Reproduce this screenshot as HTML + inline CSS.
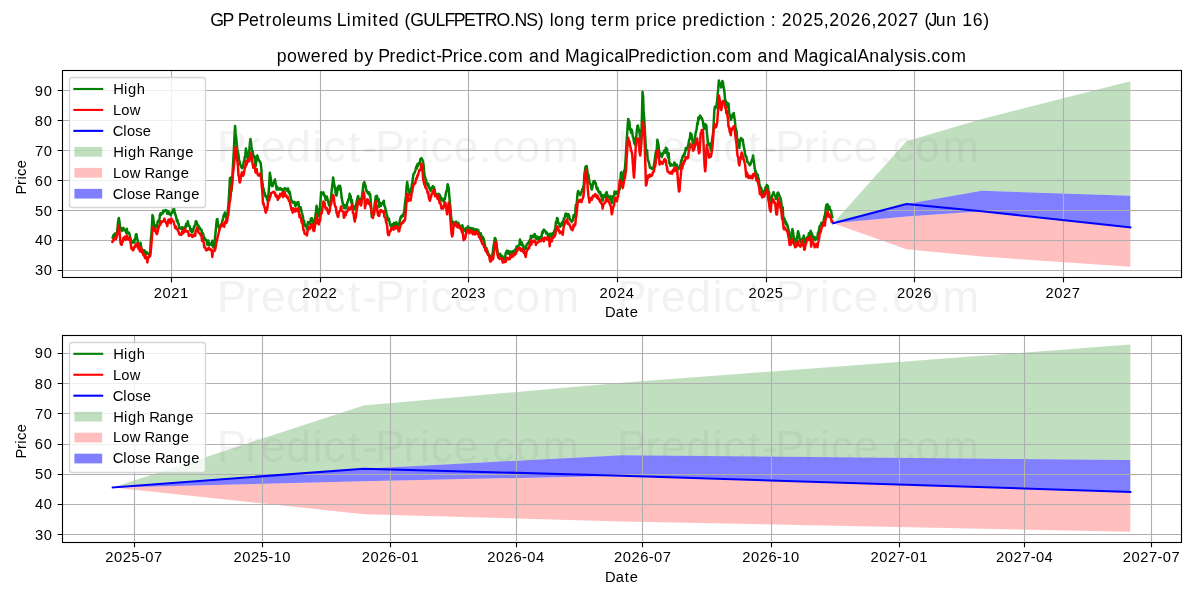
<!DOCTYPE html>
<html><head><meta charset="utf-8"><title>GP Petroleums Limited long term price prediction</title>
<style>html,body{margin:0;padding:0;background:#fff;width:1200px;height:600px;overflow:hidden}svg{display:block;will-change:transform}</style>
</head><body>
<svg width="1200" height="600" viewBox="0 0 1200 600" font-family='"Liberation Sans", sans-serif'>
<rect width="1200" height="600" fill="#ffffff"/>
<defs><clipPath id="c0"><rect x="61.9" y="70.33" width="1119.31" height="206.56"/></clipPath></defs>
<path d="M171.5 277.5v4.861M320.5 277.5v4.861M468.5 277.5v4.861M617.5 277.5v4.861M766.5 277.5v4.861M914.5 277.5v4.861M1063.5 277.5v4.861M62.5 270.5h-4.861M62.5 240.5h-4.861M62.5 210.5h-4.861M62.5 180.5h-4.861M62.5 150.5h-4.861M62.5 120.5h-4.861M62.5 90.5h-4.861" stroke="#000" stroke-width="1.111" fill="none"/>
<g clip-path="url(#c0)">
<polygon points="833.21,223.3 906.47,141.3 981.77,118.92 1130.34,81.28 1130.34,195.74 981.77,190.83 906.47,204.07 833.21,223.3" fill="#008000" fill-opacity="0.25"/>
<polygon points="833.21,223.3 906.47,216.44 981.77,211.2 1130.34,227.37 1130.34,266.81 981.77,256.57 906.47,249.17 833.21,223.3" fill="#ff0000" fill-opacity="0.25"/>
<polygon points="833.21,223.3 906.47,204.07 981.77,190.83 1130.34,195.74 1130.34,227.37 981.77,211.2 906.47,216.44 833.21,223.3" fill="#0000ff" fill-opacity="0.5"/>
</g>
<path d="M171.5 70.33V276.89M320.5 70.33V276.89M468.5 70.33V276.89M617.5 70.33V276.89M766.5 70.33V276.89M914.5 70.33V276.89M1063.5 70.33V276.89M61.9 270.5H1181.21M61.9 240.5H1181.21M61.9 210.5H1181.21M61.9 180.5H1181.21M61.9 150.5H1181.21M61.9 120.5H1181.21M61.9 90.5H1181.21" stroke="#b0b0b0" stroke-width="1.111" fill="none" clip-path="url(#c0)"/>
<g clip-path="url(#c0)">
<polyline points="112,237 112.57,237.62 113.14,236.32 113.71,234.69 114.28,236.81 114.85,233.53 115.42,237.1 115.99,235.94 116.56,235.11 117.13,231.79 117.7,225.58 118.27,220.16 118.84,218.04 119.41,221.13 119.98,226.61 120.55,227.65 121.12,228.22 121.69,231.1 122.26,229.39 122.83,228.97 123.4,227.77 123.97,230.33 124.54,229.74 125.11,230.7 125.68,230.74 126.25,232.98 126.82,228.77 127.39,232.68 127.96,232.74 128.53,232.44 129.09,232.62 129.66,235.05 130.23,237.32 130.8,239.69 131.37,241.3 131.94,241.73 132.51,242.75 133.08,242.51 133.65,240.62 134.22,242.43 134.79,239.35 135.36,237.81 135.93,234.43 136.5,234.23 137.07,238.34 137.64,240.29 138.21,246.18 138.78,244.83 139.35,243.95 139.92,248.76 140.49,242.78 141.06,246.19 141.63,249.65 142.2,251.64 142.77,249.82 143.34,250.2 143.91,251.41 144.48,250.38 145.05,253.03 145.62,253.04 146.19,253.96 146.76,252.11 147.33,252.88 147.9,253.63 148.47,253.77 149.04,253.95 149.61,256.14 150.18,253.08 150.75,240.74 151.32,234.95 151.89,226.83 152.46,215.1 153.03,216.52 153.6,221.03 154.17,224.53 154.74,227.21 155.31,225.38 155.88,226.41 156.45,225.37 157.02,227.06 157.59,221.96 158.16,220.89 158.73,221.16 159.3,220.6 159.87,215.19 160.44,213.32 161.01,214.87 161.58,213.75 162.14,213.84 162.71,213.12 163.28,210.46 163.85,211.88 164.42,211.35 164.99,210.6 165.56,210.11 166.13,210.66 166.7,210.3 167.27,213.77 167.84,212.17 168.41,211.12 168.98,213.91 169.55,213.74 170.12,213.57 170.69,215.36 171.26,213.01 171.83,212.18 172.4,212.62 172.97,211.28 173.54,209.01 174.11,208.88 174.68,211.98 175.25,214.4 175.82,215.57 176.39,218.53 176.96,221.44 177.53,219.9 178.1,223.81 178.67,223.67 179.24,228.53 179.81,227.46 180.38,227.6 180.95,228.56 181.52,229.24 182.09,227.32 182.66,229.5 183.23,230.11 183.8,227.8 184.37,230.23 184.94,226.7 185.51,227.88 186.08,224.01 186.65,226.09 187.22,223.73 187.79,221.24 188.36,224.43 188.93,225.85 189.5,225.7 190.07,228.58 190.64,230.85 191.21,229.17 191.78,232.51 192.35,231.92 192.92,231.17 193.49,229.04 194.06,226.52 194.63,225.54 195.19,225.51 195.76,221.29 196.33,221.49 196.9,222.95 197.47,224.44 198.04,225.14 198.61,226.11 199.18,228.73 199.75,227.58 200.32,229.44 200.89,229.45 201.46,229.74 202.03,233.22 202.6,233.03 203.17,233.86 203.74,236.8 204.31,239.85 204.88,238.23 205.45,239.61 206.02,240.11 206.59,240.51 207.16,244.55 207.73,244.66 208.3,240.49 208.87,244.01 209.44,245.07 210.01,243.35 210.58,244.2 211.15,243.61 211.72,245.01 212.29,240.66 212.86,246.37 213.43,247.42 214,247.77 214.57,242.71 215.14,236.67 215.71,230.77 216.28,224.63 216.85,219.5 217.42,218.97 217.99,224.89 218.56,226.45 219.13,228.27 219.7,226.23 220.27,225.35 220.84,225.37 221.41,223.94 221.98,223.24 222.55,220.07 223.12,218.12 223.69,215.3 224.26,215.17 224.83,212.44 225.4,216.67 225.97,215.29 226.54,219.27 227.11,218.58 227.68,211.88 228.24,206.82 228.81,199.02 229.38,189.24 229.95,178.2 230.52,177.59 231.09,181.42 231.66,190.69 232.23,179.76 232.8,168.74 233.37,158.88 233.94,149.34 234.51,135.51 235.08,125.91 235.65,133.68 236.22,137.76 236.79,144.57 237.36,150.07 237.93,151.6 238.5,155.26 239.07,160.15 239.64,161.49 240.21,164.67 240.78,164.99 241.35,167.21 241.92,168.28 242.49,165.78 243.06,167.16 243.63,161.9 244.2,160.81 244.77,157.08 245.34,155.66 245.91,148.4 246.48,151.24 247.05,155.51 247.62,158.44 248.19,156.32 248.76,154.82 249.33,150.05 249.9,143.55 250.47,139.07 251.04,142.51 251.61,148.82 252.18,151.24 252.75,151.19 253.32,156.63 253.89,157.39 254.46,156.17 255.03,162.82 255.6,166.41 256.17,162.37 256.74,157.38 257.31,155.48 257.88,157.49 258.45,159.14 259.02,160.54 259.59,161.37 260.16,161.96 260.73,163.53 261.29,168.05 261.86,178.83 262.43,182.79 263,187.11 263.57,188.78 264.14,193.7 264.71,192.6 265.28,195.99 265.85,196.91 266.42,196.41 266.99,198.88 267.56,200.82 268.13,196.55 268.7,192.09 269.27,183.82 269.84,172.65 270.41,176.2 270.98,179.39 271.55,185.25 272.12,186.24 272.69,185.87 273.26,182.87 273.83,182.72 274.4,180.72 274.97,179.48 275.54,182.89 276.11,185.82 276.68,189.82 277.25,186.81 277.82,189.07 278.39,189.37 278.96,189.58 279.53,188.61 280.1,188.12 280.67,189.43 281.24,189.28 281.81,188.92 282.38,189.63 282.95,191.71 283.52,190.35 284.09,189.65 284.66,188.25 285.23,188.2 285.8,188.85 286.37,189.66 286.94,190.69 287.51,189.76 288.08,188.42 288.65,192.51 289.22,193.41 289.79,191.81 290.36,196.09 290.93,198.64 291.5,200.73 292.07,201.26 292.64,202.64 293.21,201.95 293.78,202.58 294.34,201.82 294.91,204.71 295.48,206.2 296.05,202.83 296.62,202.84 297.19,204.57 297.76,202.48 298.33,202.02 298.9,206.12 299.47,209.35 300.04,207.41 300.61,207.18 301.18,209.59 301.75,212.3 302.32,214.43 302.89,216.26 303.46,221.46 304.03,220.84 304.6,223.57 305.17,225.88 305.74,225.58 306.31,225.99 306.88,229.03 307.45,224.68 308.02,222.05 308.59,222.59 309.16,222.37 309.73,223.91 310.3,222.03 310.87,218.78 311.44,218.24 312.01,218.32 312.58,220.38 313.15,222.46 313.72,223.94 314.29,224.18 314.86,219.97 315.43,215.6 316,211.22 316.57,205.73 317.14,208.46 317.71,213.51 318.28,213.97 318.85,216.31 319.42,212.36 319.99,207 320.56,200.4 321.13,192.27 321.7,193.73 322.27,193.17 322.84,193.2 323.41,192.37 323.98,195.58 324.55,195.19 325.12,197.08 325.69,200 326.26,198.93 326.83,196.55 327.39,198.72 327.96,201.21 328.53,202.89 329.1,205.48 329.67,205.31 330.24,203.58 330.81,199.1 331.38,194.15 331.95,188.16 332.52,183.57 333.09,177.45 333.66,180.77 334.23,184.81 334.8,187.29 335.37,190.76 335.94,195.34 336.51,195.59 337.08,192.97 337.65,187.23 338.22,189.79 338.79,185.76 339.36,186.15 339.93,185.81 340.5,187.61 341.07,191.82 341.64,197.51 342.21,200.58 342.78,203.67 343.35,205.4 343.92,207.93 344.49,206.87 345.06,204.95 345.63,208.47 346.2,204.98 346.77,206.14 347.34,202.36 347.91,201.2 348.48,199.11 349.05,199.52 349.62,193.83 350.19,195.23 350.76,196.49 351.33,202.65 351.9,199.9 352.47,204.48 353.04,206.95 353.61,206.58 354.18,209.22 354.75,207.89 355.32,208.52 355.89,204.73 356.46,203.12 357.03,200.06 357.6,197.28 358.17,196.07 358.74,199.05 359.31,199.57 359.88,199.46 360.45,203.03 361.01,204.54 361.58,197.91 362.15,195.26 362.72,190.54 363.29,184.83 363.86,182.86 364.43,182.17 365,186.38 365.57,185.26 366.14,190.63 366.71,190.31 367.28,191.94 367.85,193.36 368.42,193.73 368.99,192.23 369.56,195.26 370.13,194.07 370.7,200.61 371.27,208.13 371.84,217.08 372.41,214.97 372.98,213.97 373.55,212.16 374.12,214.61 374.69,203.93 375.26,199.87 375.83,196.29 376.4,199.38 376.97,195.66 377.54,200.47 378.11,201.36 378.68,199.08 379.25,207.03 379.82,205.04 380.39,202.88 380.96,205.82 381.53,203.97 382.1,203.91 382.67,202.75 383.24,202.24 383.81,200.67 384.38,206.19 384.95,206.2 385.52,209.6 386.09,210.93 386.66,214.63 387.23,215.45 387.8,220.26 388.37,218.41 388.94,218.6 389.51,222.22 390.08,224.09 390.65,226.28 391.22,224.6 391.79,225.12 392.36,224.19 392.93,224.95 393.5,227.03 394.06,222.87 394.63,227.66 395.2,225.22 395.77,226.79 396.34,222.27 396.91,224.72 397.48,223.79 398.05,225.01 398.62,224.91 399.19,224.29 399.76,220.94 400.33,218.42 400.9,216.5 401.47,217.35 402.04,215.42 402.61,214.91 403.18,215.91 403.75,213.32 404.32,210.99 404.89,204.32 405.46,199.99 406.03,195.4 406.6,186.55 407.17,181.99 407.74,186.11 408.31,188.7 408.88,189.49 409.45,194.36 410.02,195.26 410.59,192.42 411.16,188.91 411.73,185.84 412.3,182.48 412.87,178.49 413.44,174.43 414.01,173.28 414.58,172.92 415.15,171.16 415.72,169.24 416.29,166.45 416.86,168.4 417.43,164.11 418,166.16 418.57,164.43 419.14,162.79 419.71,163.66 420.28,159.25 420.85,158.65 421.42,158.12 421.99,159.3 422.56,160.04 423.13,161.85 423.7,166.17 424.27,172.72 424.84,176 425.41,178.86 425.98,179.58 426.55,183.77 427.11,184 427.68,186.02 428.25,183.67 428.82,187.12 429.39,188.29 429.96,188.14 430.53,191.04 431.1,189.15 431.67,188.65 432.24,187.37 432.81,186.1 433.38,186.6 433.95,187.07 434.52,189.26 435.09,192.61 435.66,194.43 436.23,194.64 436.8,194.23 437.37,196.23 437.94,194.95 438.51,193.69 439.08,198.6 439.65,194.67 440.22,196.4 440.79,197.19 441.36,200.27 441.93,198.72 442.5,198.63 443.07,200.72 443.64,201.47 444.21,199.72 444.78,199.43 445.35,196.28 445.92,193.04 446.49,191.21 447.06,189.16 447.63,184.15 448.2,186.11 448.77,188.73 449.34,196.66 449.91,203.26 450.48,208.45 451.05,216.08 451.62,220.01 452.19,223.28 452.76,223.92 453.33,221.85 453.9,222.66 454.47,223.4 455.04,223.09 455.61,222.69 456.18,221.52 456.75,223.48 457.32,223.62 457.89,223.49 458.46,222.91 459.03,226.51 459.6,226.92 460.16,226.73 460.73,225.83 461.3,229.15 461.87,229.66 462.44,225.34 463.01,228.73 463.58,228.74 464.15,229.57 464.72,230.83 465.29,229.99 465.86,228.18 466.43,228.09 467,229.49 467.57,227.73 468.14,226.32 468.71,229.28 469.28,231.55 469.85,227.91 470.42,228.92 470.99,228.05 471.56,229.47 472.13,228.44 472.7,230.18 473.27,228.42 473.84,231.58 474.41,229.41 474.98,230.18 475.55,232 476.12,229.2 476.69,231.17 477.26,230.61 477.83,229.83 478.4,230.45 478.97,234.38 479.54,234.34 480.11,235.51 480.68,233.19 481.25,236.13 481.82,236.03 482.39,239.02 482.96,237.29 483.53,238.47 484.1,241.06 484.67,243.45 485.24,246.92 485.81,249.75 486.38,247.83 486.95,251.85 487.52,250.69 488.09,254.12 488.66,253.83 489.23,255.13 489.8,256.62 490.37,258.01 490.94,258.13 491.51,255.69 492.08,256.26 492.65,253.51 493.21,248.14 493.78,244.75 494.35,241.44 494.92,238.07 495.49,238.85 496.06,241.24 496.63,245.1 497.2,249.57 497.77,252.76 498.34,255.28 498.91,255.72 499.48,255.26 500.05,253.73 500.62,255.93 501.19,255.31 501.76,256.99 502.33,256.04 502.9,258.89 503.47,259.61 504.04,257.54 504.61,258 505.18,256.69 505.75,252.84 506.32,252.02 506.89,250.65 507.46,250.97 508.03,253.66 508.6,250.97 509.17,252.9 509.74,253.37 510.31,255.35 510.88,251.59 511.45,251.84 512.02,253.42 512.59,251.45 513.16,251.2 513.73,250.79 514.3,252.48 514.87,250.63 515.44,249.27 516.01,249.24 516.58,246.41 517.15,246.45 517.72,245.96 518.29,247.06 518.86,244.97 519.43,244.54 520,239.59 520.57,244.73 521.14,242.38 521.71,242.32 522.28,244.03 522.85,246.5 523.42,245.41 523.99,250.23 524.56,247.86 525.13,247.86 525.7,248.66 526.26,246.46 526.83,244.42 527.4,243.81 527.97,242.74 528.54,243.02 529.11,242.09 529.68,240.21 530.25,241.54 530.82,235.77 531.39,237.66 531.96,236.35 532.53,235.8 533.1,237.27 533.67,235.27 534.24,234.86 534.81,234.01 535.38,236.83 535.95,238.36 536.52,238.89 537.09,236.58 537.66,238.9 538.23,237.59 538.8,240.31 539.37,237.12 539.94,238.07 540.51,237.16 541.08,238.67 541.65,236.4 542.22,231.94 542.79,233.06 543.36,230.35 543.93,229.65 544.5,230.73 545.07,230.45 545.64,231.87 546.21,233.46 546.78,232.44 547.35,233.42 547.92,236.04 548.49,234.16 549.06,235.48 549.63,237.44 550.2,233.76 550.77,236.31 551.34,234.41 551.91,235.65 552.48,233.35 553.05,234.85 553.62,233.33 554.19,230.98 554.76,229.9 555.33,228.18 555.9,222.07 556.47,222.25 557.04,218.05 557.61,218.82 558.18,223 558.75,223.54 559.31,223.6 559.88,226.99 560.45,224.18 561.02,225.75 561.59,225.47 562.16,222.12 562.73,224.33 563.3,221.62 563.87,218.16 564.44,218.39 565.01,216.86 565.58,213.44 566.15,215.27 566.72,214.89 567.29,213.95 567.86,217.48 568.43,214.15 569,215.4 569.57,217.8 570.14,219.92 570.71,220.01 571.28,221.16 571.85,221.85 572.42,220.45 572.99,220.43 573.56,215.17 574.13,217.05 574.7,215.23 575.27,212.7 575.84,204.89 576.41,205.37 576.98,200.82 577.55,193.68 578.12,190.97 578.69,192.93 579.26,194.21 579.83,193.32 580.4,195.23 580.97,192.34 581.54,192.48 582.11,189.45 582.68,189.37 583.25,186.93 583.82,185.08 584.39,174.43 584.96,170.37 585.53,166.7 586.1,166.21 586.67,166.11 587.24,170.3 587.81,174.16 588.38,174.72 588.95,178.66 589.52,182.41 590.09,184 590.66,184.42 591.23,187.84 591.8,189.53 592.37,187.48 592.93,183.58 593.5,181.35 594.07,182.45 594.64,180.97 595.21,183.82 595.78,183.16 596.35,187.01 596.92,189.24 597.49,187.7 598.06,189.98 598.63,192.1 599.2,191.42 599.77,193.3 600.34,192.17 600.91,196.3 601.48,194.78 602.05,194.88 602.62,200.73 603.19,197.5 603.76,196.47 604.33,195.12 604.9,195.14 605.47,197.05 606.04,193.03 606.61,192.16 607.18,194.4 607.75,195.49 608.32,197.55 608.89,197.38 609.46,196.8 610.03,199.35 610.6,196.1 611.17,199.8 611.74,202.91 612.31,200 612.88,197.53 613.45,195.71 614.02,195.83 614.59,191.58 615.16,192.01 615.73,193.7 616.3,193.98 616.87,191.66 617.44,192.54 618.01,193.2 618.58,190.8 619.15,190.75 619.72,188.88 620.29,183.33 620.86,173.01 621.43,172.16 622,175.36 622.57,180.93 623.14,181.05 623.71,177.87 624.28,170.23 624.85,169.46 625.42,162.03 625.98,153.2 626.55,142.11 627.12,134.46 627.69,125.39 628.26,118.91 628.83,121.07 629.4,121.94 629.97,129.7 630.54,128.69 631.11,132.78 631.68,129.75 632.25,132.14 632.82,136.8 633.39,137.58 633.96,141.71 634.53,143.63 635.1,144.83 635.67,139 636.24,136.88 636.81,130.91 637.38,125.93 637.95,125.48 638.52,128.76 639.09,130.02 639.66,133.5 640.23,139.85 640.8,148.66 641.37,135.78 641.94,116.63 642.51,91.87 643.08,96.19 643.65,111.38 644.22,118.6 644.79,128.43 645.36,139.9 645.93,148.14 646.5,153.94 647.07,150.13 647.64,158.75 648.21,160.95 648.78,162.04 649.35,164.61 649.92,167.67 650.49,168.09 651.06,167.57 651.63,168.36 652.2,169.05 652.77,169.14 653.34,167.49 653.91,165.63 654.48,161.36 655.05,157.55 655.62,152.84 656.19,150.85 656.76,149.39 657.33,139.81 657.9,142.01 658.47,144.86 659.03,151.08 659.6,154 660.17,152.95 660.74,153.56 661.31,156.29 661.88,157 662.45,155.03 663.02,153.72 663.59,152.13 664.16,151.52 664.73,150.02 665.3,152.73 665.87,147.86 666.44,152.56 667.01,148.79 667.58,154.9 668.15,157.62 668.72,153.16 669.29,163.16 669.86,163 670.43,165.84 671,164 671.57,164.82 672.14,165.37 672.71,165.5 673.28,164.87 673.85,165.24 674.42,162.45 674.99,163.62 675.56,165.56 676.13,165.79 676.7,164.61 677.27,166.67 677.84,167.51 678.41,169.31 678.98,167.65 679.55,168.15 680.12,165.53 680.69,163.5 681.26,160.25 681.83,160.54 682.4,157.31 682.97,155.71 683.54,156.63 684.11,153.62 684.68,154.46 685.25,151.34 685.82,147.91 686.39,149.79 686.96,148.41 687.53,147.81 688.1,145.69 688.67,142.67 689.24,139.51 689.81,139.01 690.38,133.04 690.95,135.49 691.52,134.42 692.08,137.63 692.65,142.3 693.22,143.18 693.79,144.83 694.36,141.3 694.93,139 695.5,133.69 696.07,131.36 696.64,129.38 697.21,123.33 697.78,124.29 698.35,117.48 698.92,119.18 699.49,117.76 700.06,115.44 700.63,116.48 701.2,118.19 701.77,118.02 702.34,119.48 702.91,121.53 703.48,125.82 704.05,128.99 704.62,127.25 705.19,123.96 705.76,126.41 706.33,125.05 706.9,132.72 707.47,138.34 708.04,144.47 708.61,143.64 709.18,145.17 709.75,143.5 710.32,147.51 710.89,150.41 711.46,147.48 712.03,140.2 712.6,136.41 713.17,132.45 713.74,122.6 714.31,111.05 714.88,106.65 715.45,108.38 716.02,106.96 716.59,104.44 717.16,100.56 717.73,93.59 718.3,88.17 718.87,80.48 719.44,83.74 720.01,83.03 720.58,83.86 721.15,87.49 721.72,86.14 722.29,81.03 722.86,81.78 723.43,85.8 724,88.69 724.57,93.49 725.13,100.79 725.7,100.86 726.27,105.38 726.84,102.52 727.41,105.45 727.98,107.56 728.55,103.55 729.12,112.61 729.69,115.25 730.26,116.01 730.83,120.02 731.4,117.2 731.97,117.71 732.54,114.18 733.11,115.94 733.68,113.03 734.25,116.41 734.82,120.35 735.39,126.45 735.96,129.49 736.53,131.14 737.1,137.88 737.67,141.39 738.24,139.67 738.81,145.37 739.38,148.07 739.95,139.8 740.52,140.81 741.09,138.03 741.66,139.33 742.23,139.18 742.8,139.66 743.37,144.59 743.94,147.32 744.51,150.23 745.08,153.67 745.65,156.87 746.22,156.23 746.79,158.71 747.36,162.02 747.93,162.11 748.5,163.1 749.07,163.88 749.64,165.28 750.21,164.62 750.78,163.61 751.35,162.02 751.92,159.47 752.49,160.05 753.06,155.42 753.63,160.32 754.2,163.46 754.77,168.6 755.34,171.4 755.91,171.53 756.48,175.64 757.05,174.11 757.62,174.66 758.18,178.17 758.75,178.64 759.32,183.49 759.89,185.92 760.46,188.94 761.03,187.57 761.6,189.98 762.17,193.04 762.74,192 763.31,191.06 763.88,195.34 764.45,193.26 765.02,190.76 765.59,187.28 766.16,187.66 766.73,184.98 767.3,185.44 767.87,186.13 768.44,190.97 769.01,192.01 769.58,196.64 770.15,198.8 770.72,204.49 771.29,200.56 771.86,197.45 772.43,194.93 773,194.24 773.57,192.14 774.14,194.35 774.71,195 775.28,195.61 775.85,199.07 776.42,199.07 776.99,195.71 777.56,192.96 778.13,192.51 778.7,193.7 779.27,195.88 779.84,196.41 780.41,198.53 780.98,200.05 781.55,205.17 782.12,211.56 782.69,207.19 783.26,216.86 783.83,217.97 784.4,218.77 784.97,219.81 785.54,223.89 786.11,222.29 786.68,225.12 787.25,224.4 787.82,227.16 788.39,229.38 788.96,231.49 789.53,234.7 790.1,236.56 790.67,240.55 791.23,235.94 791.8,233.25 792.37,229.09 792.94,230.79 793.51,236.09 794.08,239.33 794.65,243.03 795.22,245.21 795.79,239.05 796.36,240.66 796.93,237.96 797.5,235.05 798.07,231.18 798.64,233.34 799.21,235.66 799.78,240.34 800.35,241.51 800.92,242.36 801.49,241.81 802.06,238.85 802.63,240.17 803.2,238.71 803.77,235.62 804.34,242.29 804.91,239.97 805.48,239.95 806.05,240.44 806.62,238.14 807.19,237.23 807.76,237.96 808.33,236.39 808.9,233.27 809.47,236.34 810.04,235.4 810.61,230.68 811.18,232.21 811.75,233.29 812.32,234.66 812.89,236.82 813.46,238.68 814.03,238.26 814.6,236.98 815.17,240.12 815.74,239.05 816.31,238.09 816.88,238.81 817.45,236.19 818.02,232.64 818.59,232.27 819.16,228.64 819.73,226.07 820.3,226.27 820.87,225.09 821.44,222.65 822.01,223.35 822.58,224.31 823.15,222.35 823.72,220.22 824.29,216.84 824.85,215.58 825.42,211.69 825.99,206.74 826.56,204.61 827.13,205.07 827.7,204.27 828.27,209.69 828.84,206.91 829.41,206.62 829.98,209.23 830.55,210.38 831.12,210.69 831.69,215 832.26,216.51 832.5,218.33" fill="none" stroke="#008000" stroke-width="2.5" stroke-linejoin="round"/>
<polyline points="112,243 112.57,241.45 113.14,240.35 113.71,239.02 114.28,240.03 114.85,237.54 115.42,238.66 115.99,238.85 116.56,237.03 117.13,234.5 117.7,231.84 118.27,227.67 118.84,225.6 119.41,231.22 119.98,236.83 120.55,242.93 121.12,244.62 121.69,244.77 122.26,241.61 122.83,241.53 123.4,238.22 123.97,237.97 124.54,236.73 125.11,239.29 125.68,239.87 126.25,238.55 126.82,235.3 127.39,238.37 127.96,239.27 128.53,239.67 129.09,237.66 129.66,237.85 130.23,240.2 130.8,244.42 131.37,248.7 131.94,247.68 132.51,249.78 133.08,250.25 133.65,249.79 134.22,247.56 134.79,246 135.36,246.8 135.93,243.64 136.5,246.14 137.07,246.16 137.64,243.2 138.21,248.37 138.78,247.19 139.35,249.03 139.92,251.36 140.49,251.39 141.06,247.2 141.63,251.54 142.2,252.62 142.77,250.89 143.34,255.16 143.91,254.37 144.48,256.03 145.05,258.05 145.62,255.97 146.19,258.59 146.76,257.28 147.33,262.39 147.9,258.69 148.47,257.8 149.04,255.87 149.61,256.75 150.18,255.73 150.75,251.15 151.32,244.58 151.89,238.65 152.46,227.71 153.03,227.39 153.6,229.03 154.17,229.81 154.74,230.94 155.31,228.69 155.88,231.97 156.45,233.69 157.02,234.22 157.59,231.76 158.16,229.07 158.73,227.13 159.3,225.54 159.87,225.31 160.44,221.49 161.01,223.51 161.58,221.37 162.14,221.48 162.71,221.76 163.28,220.92 163.85,220.45 164.42,218.64 164.99,221.04 165.56,221.87 166.13,222.98 166.7,223.74 167.27,226.08 167.84,222.37 168.41,219.84 168.98,222.21 169.55,219.62 170.12,219.8 170.69,223.26 171.26,218.58 171.83,219.38 172.4,220.73 172.97,220.71 173.54,221.67 174.11,223.81 174.68,225.75 175.25,228.07 175.82,226.32 176.39,229.09 176.96,228.75 177.53,229.29 178.1,231.06 178.67,232.14 179.24,234.29 179.81,233.63 180.38,234.9 180.95,234.23 181.52,234.59 182.09,231.67 182.66,231.29 183.23,233.24 183.8,229.49 184.37,231.79 184.94,228.44 185.51,230.43 186.08,231.41 186.65,231.6 187.22,231.62 187.79,231.1 188.36,233.12 188.93,236.02 189.5,235.13 190.07,234.72 190.64,235.03 191.21,235.07 191.78,236.31 192.35,236.95 192.92,236.48 193.49,235.07 194.06,234.98 194.63,233.86 195.19,235.83 195.76,230.66 196.33,230.9 196.9,227.44 197.47,229.2 198.04,230.35 198.61,232.82 199.18,232.78 199.75,233.26 200.32,234.28 200.89,235.42 201.46,235.31 202.03,240.95 202.6,239.15 203.17,240.99 203.74,242.66 204.31,247.22 204.88,246.58 205.45,248.11 206.02,250.19 206.59,249.49 207.16,250.06 207.73,249.13 208.3,248.12 208.87,247.65 209.44,249.53 210.01,248.94 210.58,249.89 211.15,249.75 211.72,249.77 212.29,256.89 212.86,251.86 213.43,251.48 214,250.48 214.57,250.8 215.14,249.63 215.71,246.84 216.28,242.87 216.85,240.98 217.42,237.91 217.99,235.22 218.56,233.57 219.13,231.14 219.7,229.07 220.27,226.06 220.84,226.76 221.41,225.89 221.98,223.58 222.55,225.9 223.12,226.05 223.69,224.41 224.26,226.68 224.83,222.02 225.4,223.6 225.97,220.26 226.54,222.66 227.11,221.15 227.68,216.83 228.24,215.21 228.81,210.19 229.38,204.21 229.95,200.85 230.52,197.76 231.09,189.57 231.66,187.16 232.23,182.5 232.8,175.55 233.37,169.89 233.94,165.71 234.51,159.07 235.08,152.98 235.65,146.88 236.22,151.36 236.79,155.67 237.36,161.37 237.93,165.57 238.5,175.64 239.07,177.05 239.64,182.49 240.21,181.54 240.78,177.38 241.35,174.61 241.92,172.35 242.49,172.44 243.06,175.66 243.63,174.39 244.2,172.05 244.77,167.64 245.34,167.46 245.91,160.81 246.48,165.03 247.05,162.37 247.62,160.97 248.19,158.99 248.76,161.56 249.33,161.05 249.9,156.77 250.47,155.61 251.04,152.47 251.61,157.48 252.18,161.46 252.75,164.62 253.32,167.72 253.89,167.05 254.46,164.91 255.03,169.11 255.6,172.57 256.17,169.96 256.74,169.06 257.31,173.02 257.88,174.8 258.45,175.53 259.02,175.06 259.59,175.55 260.16,173.62 260.73,174.96 261.29,179.61 261.86,187.08 262.43,192.79 263,203.78 263.57,203.14 264.14,206.39 264.71,207.23 265.28,211.07 265.85,212.67 266.42,207.93 266.99,210.11 267.56,206.83 268.13,201.27 268.7,200.21 269.27,200.33 269.84,195.41 270.41,196.74 270.98,193.11 271.55,192.68 272.12,192.62 272.69,192.58 273.26,191.68 273.83,191.84 274.4,192.25 274.97,193.15 275.54,196.04 276.11,194.83 276.68,197.42 277.25,195.84 277.82,199.89 278.39,198.28 278.96,196.25 279.53,197.32 280.1,193.73 280.67,195.1 281.24,195.09 281.81,195.3 282.38,192.8 282.95,196.96 283.52,196.08 284.09,195.58 284.66,192.09 285.23,194.6 285.8,196.18 286.37,195.44 286.94,197.52 287.51,196.59 288.08,198.41 288.65,200.17 289.22,201.02 289.79,201.9 290.36,204.4 290.93,206.75 291.5,209.73 292.07,208.6 292.64,212.68 293.21,208.3 293.78,209.03 294.34,209.38 294.91,211.5 295.48,211.56 296.05,208.64 296.62,209.09 297.19,210.79 297.76,208.57 298.33,211.48 298.9,211.34 299.47,217.2 300.04,214.99 300.61,217.48 301.18,219.06 301.75,222.72 302.32,221.68 302.89,225.62 303.46,230.43 304.03,229.96 304.6,233.7 305.17,234.07 305.74,234.21 306.31,234.35 306.88,235.49 307.45,231.42 308.02,230.12 308.59,226.95 309.16,228.23 309.73,228.86 310.3,227.73 310.87,225.08 311.44,224.16 312.01,226.68 312.58,225.48 313.15,229.76 313.72,231.11 314.29,230.63 314.86,226.65 315.43,223.36 316,218.17 316.57,215.03 317.14,218.24 317.71,223.28 318.28,223.09 318.85,224.42 319.42,219.6 319.99,221.02 320.56,215.52 321.13,212.99 321.7,213.49 322.27,209.01 322.84,204.74 323.41,201.5 323.98,204 324.55,202.69 325.12,206.57 325.69,208.7 326.26,208.13 326.83,208.07 327.39,209.83 327.96,212.5 328.53,213.78 329.1,211.57 329.67,211.59 330.24,206.44 330.81,204.86 331.38,203.13 331.95,198.37 332.52,195.32 333.09,195.08 333.66,196.61 334.23,201.45 334.8,205.12 335.37,206.84 335.94,206.99 336.51,212.91 337.08,213.35 337.65,216.18 338.22,216.89 338.79,212.84 339.36,211.33 339.93,210.81 340.5,209.7 341.07,206.49 341.64,210.58 342.21,210.97 342.78,211.53 343.35,212.91 343.92,217.76 344.49,217.02 345.06,212.25 345.63,215.37 346.2,213.25 346.77,212.1 347.34,211.01 347.91,210.7 348.48,207.6 349.05,209.88 349.62,208.08 350.19,208.97 350.76,208.14 351.33,207.12 351.9,204.75 352.47,208.1 353.04,213.34 353.61,213.28 354.18,218.61 354.75,221.5 355.32,218.63 355.89,217.1 356.46,211.4 357.03,208.91 357.6,204.09 358.17,200.64 358.74,203.99 359.31,200.62 359.88,203.5 360.45,203 361.01,205.5 361.58,201.89 362.15,197.47 362.72,194.69 363.29,193.78 363.86,192.24 364.43,196.47 365,208.14 365.57,203.38 366.14,204 366.71,202.88 367.28,199.31 367.85,199.68 368.42,200.71 368.99,204.06 369.56,203.22 370.13,204.68 370.7,206.98 371.27,209.57 371.84,213.9 372.41,214.8 372.98,218.02 373.55,212.58 374.12,212.57 374.69,207.73 375.26,204.18 375.83,201.12 376.4,204.81 376.97,207.13 377.54,212.23 378.11,215.4 378.68,213.89 379.25,215.91 379.82,211.74 380.39,210.57 380.96,209.98 381.53,210.39 382.1,211.53 382.67,212.07 383.24,211.38 383.81,211.02 384.38,216.82 384.95,217.26 385.52,217.84 386.09,222.49 386.66,223.34 387.23,226.49 387.8,233.36 388.37,235.03 388.94,235.14 389.51,231.81 390.08,231.31 390.65,230.87 391.22,228.69 391.79,227.42 392.36,228.8 392.93,228.44 393.5,229.75 394.06,226.74 394.63,228.27 395.2,226.82 395.77,228.65 396.34,226.38 396.91,227.81 397.48,227.05 398.05,227.46 398.62,231.39 399.19,231.05 399.76,227.99 400.33,226.43 400.9,223.44 401.47,223.75 402.04,223.48 402.61,222.02 403.18,222.57 403.75,220.39 404.32,220.41 404.89,220.38 405.46,215.57 406.03,209.05 406.6,199.65 407.17,193.86 407.74,195.26 408.31,201.01 408.88,198.17 409.45,199.45 410.02,200.02 410.59,200.38 411.16,196.83 411.73,192.79 412.3,191.67 412.87,187.11 413.44,185.27 414.01,183.6 414.58,182.7 415.15,183.52 415.72,180.51 416.29,178.19 416.86,178.57 417.43,175.22 418,175.41 418.57,173.39 419.14,170.15 419.71,169.69 420.28,170.32 420.85,168.48 421.42,163.78 421.99,167.86 422.56,171.16 423.13,178.68 423.7,181.53 424.27,184.56 424.84,183.8 425.41,187.45 425.98,188.17 426.55,188.83 427.11,190.19 427.68,193.32 428.25,192.48 428.82,197.84 429.39,199.29 429.96,200.83 430.53,198.24 431.1,196.52 431.67,193.67 432.24,193.89 432.81,191.66 433.38,190.8 433.95,189.48 434.52,192.61 435.09,196.19 435.66,194.98 436.23,195.08 436.8,195.15 437.37,198.63 437.94,199.06 438.51,195.81 439.08,200.31 439.65,203.19 440.22,202.32 440.79,204.37 441.36,208.34 441.93,208.69 442.5,206.9 443.07,208.52 443.64,206.97 444.21,204.51 444.78,202.83 445.35,202.65 445.92,206.14 446.49,209.3 447.06,214.33 447.63,208.42 448.2,206.51 448.77,202.46 449.34,204.77 449.91,213.3 450.48,219.72 451.05,228.17 451.62,234.14 452.19,236.48 452.76,234.66 453.33,227.92 453.9,222.41 454.47,225.14 455.04,225.39 455.61,224.81 456.18,224.35 456.75,226.08 457.32,227.15 457.89,225.02 458.46,224.85 459.03,225.59 459.6,228.25 460.16,228.46 460.73,228 461.3,229.48 461.87,232.2 462.44,229.83 463.01,234.75 463.58,240.2 464.15,239.29 464.72,238.95 465.29,238.09 465.86,234.81 466.43,230.98 467,230.99 467.57,229.8 468.14,229.98 468.71,232.32 469.28,233.25 469.85,230.26 470.42,230.77 470.99,232.2 471.56,232.51 472.13,231.31 472.7,234.18 473.27,231.45 473.84,233.33 474.41,232.79 474.98,234.45 475.55,234.03 476.12,231.2 476.69,232.85 477.26,232.49 477.83,234.02 478.4,234.12 478.97,237.01 479.54,236.95 480.11,238.71 480.68,237.54 481.25,241.07 481.82,242.12 482.39,243.98 482.96,243.46 483.53,244.7 484.1,247.13 484.67,247.29 485.24,249.79 485.81,251.25 486.38,249.02 486.95,252.29 487.52,253.67 488.09,255.06 488.66,255.06 489.23,255.96 489.8,259.78 490.37,261.52 490.94,261.52 491.51,258.47 492.08,257.52 492.65,259.52 493.21,258.35 493.78,253.6 494.35,249.24 494.92,248.68 495.49,242.74 496.06,241.74 496.63,246.04 497.2,252.66 497.77,255.67 498.34,257.77 498.91,257.57 499.48,258.97 500.05,258.75 500.62,258.86 501.19,257.88 501.76,258.47 502.33,260.5 502.9,262.55 503.47,262.04 504.04,262.28 504.61,261.25 505.18,260.72 505.75,261.76 506.32,257.73 506.89,257.69 507.46,258.09 508.03,259.28 508.6,258.41 509.17,257.82 509.74,259.15 510.31,257.6 510.88,254.88 511.45,255.99 512.02,256.92 512.59,255.44 513.16,256.34 513.73,253.39 514.3,254.17 514.87,254.89 515.44,253.15 516.01,253.71 516.58,249.43 517.15,251.21 517.72,249.41 518.29,249.2 518.86,248.15 519.43,248.09 520,248.09 520.57,250.47 521.14,250.69 521.71,249.84 522.28,248.77 522.85,251.62 523.42,250.19 523.99,252.95 524.56,252.12 525.13,254.98 525.7,256.93 526.26,253.16 526.83,250.61 527.4,250.13 527.97,248.34 528.54,247.87 529.11,248.44 529.68,244.43 530.25,245.45 530.82,240.61 531.39,244.59 531.96,240.76 532.53,241.24 533.1,240.93 533.67,241.77 534.24,240.44 534.81,240.67 535.38,242.21 535.95,244.93 536.52,243.35 537.09,243.1 537.66,242.22 538.23,242.29 538.8,241.71 539.37,241.21 539.94,240.29 540.51,240.59 541.08,241.07 541.65,239.81 542.22,240.01 542.79,238.64 543.36,238.47 543.93,241.39 544.5,237.42 545.07,237.98 545.64,238.51 546.21,239.09 546.78,237.85 547.35,238.57 547.92,239.88 548.49,239.97 549.06,237.53 549.63,246.28 550.2,239.21 550.77,240.37 551.34,238.49 551.91,241.36 552.48,237.27 553.05,237.82 553.62,236.37 554.19,237.1 554.76,235.36 555.33,235.01 555.9,229.39 556.47,229.22 557.04,226.35 557.61,227.51 558.18,230.41 558.75,229.77 559.31,230.98 559.88,233.26 560.45,231.64 561.02,232.7 561.59,232.35 562.16,231.77 562.73,234.74 563.3,229.88 563.87,225.9 564.44,224.76 565.01,223.13 565.58,220.71 566.15,220.6 566.72,222.05 567.29,219.28 567.86,223.88 568.43,224.21 569,223.43 569.57,224.83 570.14,225.86 570.71,227.77 571.28,229.17 571.85,228.83 572.42,230.24 572.99,229 573.56,224.62 574.13,226.67 574.7,224.87 575.27,224.82 575.84,218.16 576.41,215.54 576.98,209.89 577.55,203.8 578.12,200.6 578.69,201.54 579.26,201.71 579.83,199.95 580.4,200.95 580.97,199.89 581.54,202.14 582.11,199.77 582.68,198.76 583.25,197 583.82,193.03 584.39,183.54 584.96,177.14 585.53,172.99 586.1,169.96 586.67,174.91 587.24,180.05 587.81,189.12 588.38,195.38 588.95,199.13 589.52,202.45 590.09,199.1 590.66,198.14 591.23,197.87 591.8,199.82 592.37,198.01 592.93,195.76 593.5,195.78 594.07,196 594.64,196.25 595.21,193.97 595.78,195.26 596.35,195.72 596.92,197.72 597.49,195.43 598.06,198.87 598.63,199.18 599.2,198.67 599.77,201.46 600.34,199.71 600.91,203.15 601.48,203.03 602.05,203.96 602.62,208.63 603.19,205.56 603.76,203.75 604.33,203.49 604.9,202.92 605.47,201.84 606.04,199.25 606.61,197.94 607.18,201.01 607.75,200.84 608.32,200.37 608.89,201.74 609.46,202.91 610.03,204.98 610.6,205.49 611.17,208.81 611.74,214.27 612.31,212.64 612.88,208.95 613.45,206.27 614.02,205.33 614.59,200.96 615.16,198.43 615.73,197.51 616.3,197.65 616.87,201.18 617.44,198.03 618.01,196.73 618.58,192.66 619.15,187.32 619.72,180.37 620.29,180.7 620.86,182.36 621.43,182.94 622,184.51 622.57,188.15 623.14,186.29 623.71,182.5 624.28,179.39 624.85,178.03 625.42,173.88 625.98,170.93 626.55,159.93 627.12,151.1 627.69,142.18 628.26,137.81 628.83,142.36 629.4,140.8 629.97,145.42 630.54,147.01 631.11,151.1 631.68,151.62 632.25,154.7 632.82,162.89 633.39,171.12 633.96,177.6 634.53,170.32 635.1,159.68 635.67,148.21 636.24,142.12 636.81,138.98 637.38,138.88 637.95,138.61 638.52,138.85 639.09,145.81 639.66,152.79 640.23,155.44 640.8,150 641.37,140.04 641.94,135.47 642.51,125.77 643.08,122.11 643.65,130.35 644.22,132.13 644.79,146.1 645.36,164.96 645.93,185.41 646.5,184.68 647.07,180.5 647.64,178.66 648.21,175.44 648.78,175.94 649.35,176.77 649.92,174.54 650.49,176.4 651.06,175.83 651.63,175.75 652.2,174.95 652.77,172.82 653.34,171.59 653.91,171.58 654.48,167.28 655.05,166.74 655.62,163.47 656.19,157.82 656.76,156.88 657.33,151.2 657.9,150.33 658.47,151.32 659.03,158.03 659.6,164.68 660.17,163.03 660.74,161.72 661.31,162.97 661.88,163.45 662.45,163.82 663.02,162.78 663.59,161.53 664.16,159.62 664.73,159.1 665.3,161.49 665.87,160.06 666.44,165.52 667.01,167.18 667.58,171.54 668.15,171.46 668.72,172.53 669.29,172.74 669.86,173.46 670.43,173.46 671,171.98 671.57,173.47 672.14,173.71 672.71,170.51 673.28,169.65 673.85,171.21 674.42,167.57 674.99,168.9 675.56,169.04 676.13,171.01 676.7,168.03 677.27,171.91 677.84,179.11 678.41,186.17 678.98,191.55 679.55,190.27 680.12,181.75 680.69,176.65 681.26,169.56 681.83,163.83 682.4,168.16 682.97,163.21 683.54,164.42 684.11,160.72 684.68,161.44 685.25,160.14 685.82,156.89 686.39,158.67 686.96,157.36 687.53,156.79 688.1,157.85 688.67,151.87 689.24,149.83 689.81,147.65 690.38,144.02 690.95,145.03 691.52,144.77 692.08,146.72 692.65,148.04 693.22,150.63 693.79,149.42 694.36,148.55 694.93,145.85 695.5,143.73 696.07,140.72 696.64,142.44 697.21,138.59 697.78,144.83 698.35,148.04 698.92,153.31 699.49,153.01 700.06,145.21 700.63,133.25 701.2,133.5 701.77,129.92 702.34,130.19 702.91,131.29 703.48,142.5 704.05,154.82 704.62,165.47 705.19,171.29 705.76,164.83 706.33,151.18 706.9,144.9 707.47,149.78 708.04,151.26 708.61,155 709.18,157.62 709.75,154.5 710.32,155.67 710.89,156.62 711.46,153.6 712.03,150.62 712.6,144.55 713.17,136.95 713.74,129.19 714.31,123.89 714.88,124.71 715.45,127.49 716.02,127.03 716.59,125.41 717.16,122.58 717.73,114.76 718.3,108.32 718.87,95.52 719.44,98.29 720.01,102.47 720.58,106.4 721.15,110.06 721.72,107.89 722.29,102.12 722.86,100.95 723.43,101.61 724,102.94 724.57,103.72 725.13,107.7 725.7,106.72 726.27,113.1 726.84,110.6 727.41,115.57 727.98,119.08 728.55,126.82 729.12,126.97 729.69,131.56 730.26,132.9 730.83,135.2 731.4,128.91 731.97,130.03 732.54,127.82 733.11,128 733.68,126.32 734.25,126.03 734.82,130.96 735.39,135.8 735.96,140.07 736.53,143.9 737.1,151.61 737.67,156.4 738.24,157.04 738.81,163.32 739.38,165.38 739.95,160.24 740.52,159.31 741.09,156.36 741.66,152.54 742.23,153.68 742.8,155.79 743.37,159.52 743.94,159.3 744.51,162.32 745.08,164.53 745.65,170.13 746.22,176.56 746.79,172.34 747.36,174.36 747.93,175.63 748.5,177.97 749.07,177.17 749.64,175.85 750.21,178.06 750.78,176.98 751.35,177.27 751.92,176.12 752.49,178.4 753.06,174.14 753.63,174.44 754.2,175.36 754.77,173.36 755.34,175.52 755.91,177.47 756.48,180.44 757.05,179.48 757.62,180.15 758.18,183.36 758.75,185.73 759.32,188.36 759.89,194.02 760.46,193.73 761.03,195.02 761.6,194.07 762.17,197.4 762.74,196.48 763.31,195.84 763.88,196.76 764.45,196.2 765.02,193.95 765.59,191.63 766.16,191.04 766.73,189.37 767.3,190.9 767.87,193.97 768.44,200.02 769.01,202.57 769.58,207.88 770.15,210.61 770.72,211.67 771.29,203.95 771.86,202.04 772.43,198.58 773,200.3 773.57,200.05 774.14,202.71 774.71,202.3 775.28,203.81 775.85,210.12 776.42,214.58 776.99,214.45 777.56,207.83 778.13,198.58 778.7,200.83 779.27,202.66 779.84,204.48 780.41,208.07 780.98,207.52 781.55,213.32 782.12,219.11 782.69,218.26 783.26,224.88 783.83,229.18 784.4,227.13 784.97,227.97 785.54,229.44 786.11,229.83 786.68,231.1 787.25,230.71 787.82,233.49 788.39,236.31 788.96,238.79 789.53,244.88 790.1,244.28 790.67,244.82 791.23,241.74 791.8,241.56 792.37,239.21 792.94,240.45 793.51,243.54 794.08,244.2 794.65,245.21 795.22,247.32 795.79,245.26 796.36,246.42 796.93,243.39 797.5,242.51 798.07,241.36 798.64,245.24 799.21,244.98 799.78,245.92 800.35,246.56 800.92,245.66 801.49,243.88 802.06,240.33 802.63,242.68 803.2,243.91 803.77,247.09 804.34,249.84 804.91,248.77 805.48,244.23 806.05,243.7 806.62,240.43 807.19,238.66 807.76,240.41 808.33,239.45 808.9,237.67 809.47,239.79 810.04,240.38 810.61,236.39 811.18,246.61 811.75,239.28 812.32,241.05 812.89,241.49 813.46,243.48 814.03,244.08 814.6,247.38 815.17,246.53 815.74,245.61 816.31,243.89 816.88,245.94 817.45,247.24 818.02,242.95 818.59,241.27 819.16,237.69 819.73,233.09 820.3,232.85 820.87,231.29 821.44,228.39 822.01,226.68 822.58,226.34 823.15,224.95 823.72,222.38 824.29,224.71 824.85,225.5 825.42,220.19 825.99,218.17 826.56,214.55 827.13,212.84 827.7,211.55 828.27,216.45 828.84,215.31 829.41,214.53 829.98,216.99 830.55,216.71 831.12,219.34 831.69,221.57 832.26,220.89 832.5,223.33" fill="none" stroke="#ff0000" stroke-width="2.5" stroke-linejoin="round"/>
<polyline points="833.21,223.3 906.47,204.07 981.77,211.2 1130.34,227.37" fill="none" stroke="#0000ff" stroke-width="2.083" stroke-linejoin="round" stroke-linecap="square"/>
</g>
<rect x="62.5" y="70.5" width="1119" height="207" fill="none" stroke="#000" stroke-width="1.111" stroke-linejoin="miter"/>
<text x="153.72 162.5 171.28 180.06" y="297.61" font-size="14.72" fill="#000000">2021</text>
<text x="302.33 311.08 319.83 328.58" y="297.61" font-size="14.72" fill="#000000">2022</text>
<text x="450.89 459.64 468.39 477.14" y="297.61" font-size="14.72" fill="#000000">2023</text>
<text x="599.45 608.2 616.95 625.7" y="297.61" font-size="14.72" fill="#000000">2024</text>
<text x="748.42 757.17 765.92 774.67" y="297.61" font-size="14.72" fill="#000000">2025</text>
<text x="896.94 905.72 914.5 923.28" y="297.61" font-size="14.72" fill="#000000">2026</text>
<text x="1045.55 1054.3 1063.05 1071.8" y="297.61" font-size="14.72" fill="#000000">2027</text>
<text x="34.96 43.71" y="275.4" font-size="14.72" fill="#000000">30</text>
<text x="34.96 43.71" y="245.45" font-size="14.72" fill="#000000">40</text>
<text x="34.96 43.71" y="215.5" font-size="14.72" fill="#000000">50</text>
<text x="34.87 43.68" y="185.55" font-size="14.72" fill="#000000">60</text>
<text x="34.96 43.71" y="155.6" font-size="14.72" fill="#000000">70</text>
<text x="34.87 43.68" y="125.65" font-size="14.72" fill="#000000">80</text>
<text x="34.87 43.68" y="95.7" font-size="14.72" fill="#000000">90</text>
<rect x="69.5" y="77.5" width="136" height="130" rx="2.778" fill="#ffffff" fill-opacity="0.8" stroke="#cccccc" stroke-opacity="0.8" stroke-width="1.389"/>
<path d="M74.4 88.97H102.18" stroke="#008000" stroke-width="2.083" stroke-linecap="square"/>
<path d="M74.4 109.92H102.18" stroke="#ff0000" stroke-width="2.083" stroke-linecap="square"/>
<path d="M74.4 130.86H102.18" stroke="#0000ff" stroke-width="2.083" stroke-linecap="square"/>
<rect x="74.4" y="146.94" width="27.78" height="9.72" fill="#008000" fill-opacity="0.25"/>
<rect x="74.4" y="167.89" width="27.78" height="9.72" fill="#ff0000" fill-opacity="0.25"/>
<rect x="74.4" y="188.83" width="27.78" height="9.72" fill="#0000ff" fill-opacity="0.5"/>
<text x="113.19 124.01 127.88 136.68" y="93.83" font-size="14.72" fill="#000000">High</text>
<text x="113.07 121.2 129.67" y="114.78" font-size="14.72" fill="#000000">Low</text>
<text x="112.81 123.26 126.96 135.23 142.68" y="135.72" font-size="14.72" fill="#000000">Close</text>
<text x="113.2 124.03 127.91 136.72 145.38 149.15 159.45 167.81 176.62 185.3" y="156.67" font-size="14.72" fill="#000000">High Range</text>
<text x="113.07 121.2 129.67 140.84 144.61 154.92 163.28 172.1 180.8" y="177.61" font-size="14.72" fill="#000000">Low Range</text>
<text x="112.82 123.28 127 135.28 142.75 151.28 155.04 165.34 173.69 182.5 191.18" y="198.56" font-size="14.72" fill="#000000">Close Range</text>
<defs><clipPath id="c1"><rect x="61.9" y="335.17" width="1119.31" height="206.56"/></clipPath></defs>
<path d="M134.5 542.5v4.861M262.5 542.5v4.861M390.5 542.5v4.861M516.5 542.5v4.861M642.5 542.5v4.861M771.5 542.5v4.861M899.5 542.5v4.861M1024.5 542.5v4.861M1151.5 542.5v4.861M62.5 534.5h-4.861M62.5 504.5h-4.861M62.5 474.5h-4.861M62.5 444.5h-4.861M62.5 413.5h-4.861M62.5 383.5h-4.861M62.5 353.5h-4.861" stroke="#000" stroke-width="1.111" fill="none"/>
<g clip-path="url(#c1)">
<polygon points="112.78,487.49 363.68,405.41 621.56,382.7 1130.34,344.59 1130.34,460.01 621.56,455.2 363.68,468.7 112.78,487.49" fill="#008000" fill-opacity="0.25"/>
<polygon points="112.78,487.49 363.68,481.17 621.56,475.74 1130.34,491.9 1130.34,531.67 621.56,521.49 363.68,514.18 112.78,487.49" fill="#ff0000" fill-opacity="0.25"/>
<polygon points="112.78,487.49 363.68,468.7 621.56,455.2 1130.34,460.01 1130.34,491.9 621.56,475.74 363.68,481.17 112.78,487.49" fill="#0000ff" fill-opacity="0.5"/>
</g>
<path d="M134.5 335.17V541.72M262.5 335.17V541.72M390.5 335.17V541.72M516.5 335.17V541.72M642.5 335.17V541.72M771.5 335.17V541.72M899.5 335.17V541.72M1024.5 335.17V541.72M1151.5 335.17V541.72M61.9 534.5H1181.21M61.9 504.5H1181.21M61.9 474.5H1181.21M61.9 444.5H1181.21M61.9 413.5H1181.21M61.9 383.5H1181.21M61.9 353.5H1181.21" stroke="#b0b0b0" stroke-width="1.111" fill="none" clip-path="url(#c1)"/>
<g clip-path="url(#c1)">
<polyline points="112.78,487.49 363.68,468.7 621.56,475.74 1130.34,491.9" fill="none" stroke="#0000ff" stroke-width="2.083" stroke-linejoin="round" stroke-linecap="square"/>
</g>
<rect x="62.5" y="335.5" width="1119" height="207" fill="none" stroke="#000" stroke-width="1.111" stroke-linejoin="miter"/>
<text x="105.28 114.01 122.75 131.49 139.97 145.18 153.91" y="562.44" font-size="14.72" fill="#000000">2025-07</text>
<text x="233.46 242.22 250.97 259.73 268.23 273.45 282.21" y="562.44" font-size="14.72" fill="#000000">2025-10</text>
<text x="361.65 370.42 379.2 387.97 396.49 401.73 410.5" y="562.44" font-size="14.72" fill="#000000">2026-01</text>
<text x="487.15 495.91 504.67 513.42 521.92 527.14 535.9" y="562.44" font-size="14.72" fill="#000000">2026-04</text>
<text x="614 622.76 631.51 640.27 648.77 653.99 662.74" y="562.44" font-size="14.72" fill="#000000">2026-07</text>
<text x="742.19 750.96 759.74 768.51 777.03 782.26 791.04" y="562.44" font-size="14.72" fill="#000000">2026-10</text>
<text x="870.48 879.24 887.99 896.75 905.25 910.47 919.22" y="562.44" font-size="14.72" fill="#000000">2027-01</text>
<text x="995.98 1004.72 1013.46 1022.19 1030.68 1035.89 1044.62" y="562.44" font-size="14.72" fill="#000000">2027-04</text>
<text x="1122.83 1131.57 1140.3 1149.04 1157.53 1162.73 1171.47" y="562.44" font-size="14.72" fill="#000000">2027-07</text>
<text x="34.96 43.71" y="539.67" font-size="14.72" fill="#000000">30</text>
<text x="34.96 43.71" y="509.47" font-size="14.72" fill="#000000">40</text>
<text x="34.96 43.71" y="479.28" font-size="14.72" fill="#000000">50</text>
<text x="34.87 43.68" y="449.08" font-size="14.72" fill="#000000">60</text>
<text x="34.96 43.71" y="418.88" font-size="14.72" fill="#000000">70</text>
<text x="34.87 43.68" y="388.68" font-size="14.72" fill="#000000">80</text>
<text x="34.87 43.68" y="358.48" font-size="14.72" fill="#000000">90</text>
<rect x="69.5" y="342.5" width="136" height="130" rx="2.778" fill="#ffffff" fill-opacity="0.8" stroke="#cccccc" stroke-opacity="0.8" stroke-width="1.389"/>
<path d="M74.4 353.81H102.18" stroke="#008000" stroke-width="2.083" stroke-linecap="square"/>
<path d="M74.4 374.75H102.18" stroke="#ff0000" stroke-width="2.083" stroke-linecap="square"/>
<path d="M74.4 395.69H102.18" stroke="#0000ff" stroke-width="2.083" stroke-linecap="square"/>
<rect x="74.4" y="411.78" width="27.78" height="9.72" fill="#008000" fill-opacity="0.25"/>
<rect x="74.4" y="432.72" width="27.78" height="9.72" fill="#ff0000" fill-opacity="0.25"/>
<rect x="74.4" y="453.67" width="27.78" height="9.72" fill="#0000ff" fill-opacity="0.5"/>
<text x="113.19 124.01 127.88 136.68" y="358.67" font-size="14.72" fill="#000000">High</text>
<text x="113.07 121.2 129.67" y="379.61" font-size="14.72" fill="#000000">Low</text>
<text x="112.81 123.26 126.96 135.23 142.68" y="400.56" font-size="14.72" fill="#000000">Close</text>
<text x="113.2 124.03 127.91 136.72 145.38 149.15 159.45 167.81 176.62 185.3" y="421.5" font-size="14.72" fill="#000000">High Range</text>
<text x="113.07 121.2 129.67 140.84 144.61 154.92 163.28 172.1 180.8" y="442.44" font-size="14.72" fill="#000000">Low Range</text>
<text x="112.82 123.28 127 135.28 142.75 151.28 155.04 165.34 173.69 182.5 191.18" y="463.39" font-size="14.72" fill="#000000">Close Range</text>
<text x="210.13 222.56 233.65 237.86 248.96 259.2 265.39 271.91 281.89 286.36 296.74 307.65 323.02 331.95 336.76 346.65 351.66 367.45 372.53 378.44 388.83 399.2 404.6 410.35 423.36 435.53 444.46 453.75 464.01 474.84 484.7 496.52 510.12 514.38 526.35 537.82 544.19 549.63 554.07 564.42 574.96 585.34 591.24 597.15 607.65 614.74 630.09 635.54 646.21 652.91 657.33 666.52 676.73 682.18 692.85 699.4 709.42 719.96 724.38 734.17 740.22 744.67 755.02 765.38 770.82 776.26 781.73 792.3 802.88 813.45 823.84 829.31 839.88 850.45 861.02 871.41 876.88 887.45 898.02 908.6 918.98 924.38 928.59 935.82 946.35 956.71 962.18 972.76 983.25" y="26" font-size="17.67" fill="#000000">GP Petroleums Limited (GULFPETRO.NS) long term price prediction : 2025,2026,2027 (Jun 16)</text>
<text x="216.88 245.35 261.04 286.13 312.49 323.57 348.07 362.51 375.18 403.66 419.7 430.79 453.78 479.34 492.48 515.4 542.28" y="462" font-size="44.17" fill="#808080" fill-opacity="0.1">Predict-Price.com</text>
<text x="616.88 645.35 661.04 686.13 712.49 723.57 748.07 762.51 775.18 803.66 819.7 830.79 853.78 879.34 892.48 915.4 942.28" y="462" font-size="44.17" fill="#808080" fill-opacity="0.1">Predict-Price.com</text>
<text x="216.88 245.35 261.04 286.13 312.49 323.57 348.07 362.51 375.18 403.66 419.7 430.79 453.78 479.34 492.48 515.4 542.28" y="312" font-size="44.17" fill="#808080" fill-opacity="0.1">Predict-Price.com</text>
<text x="616.88 645.35 661.04 686.13 712.49 723.57 748.07 762.51 775.18 803.66 819.7 830.79 853.78 879.34 892.48 915.4 942.28" y="312" font-size="44.17" fill="#808080" fill-opacity="0.1">Predict-Price.com</text>
<text x="216.88 245.35 261.04 286.13 312.49 323.57 348.07 362.51 375.18 403.66 419.7 430.79 453.78 479.34 492.48 515.4 542.28" y="162" font-size="44.17" fill="#808080" fill-opacity="0.1">Predict-Price.com</text>
<text x="616.88 645.35 661.04 686.13 712.49 723.57 748.07 762.51 775.18 803.66 819.7 830.79 853.78 879.34 892.48 915.4 942.28" y="162" font-size="44.17" fill="#808080" fill-opacity="0.1">Predict-Price.com</text>
<text x="276.73 287.08 297.49 310.86 321.35 327.9 337.92 348.29 353.74 364.42 373.94 378.15 389.52 395.78 405.8 416.33 420.75 430.53 436.3 441.35 452.72 459.13 463.55 472.73 482.94 488.18 497.33 508.06 523.69 528.96 539.31 549.85 560.22 565.12 579.82 590.18 600.71 605.13 614.29 624.63 628.02 639.39 645.65 655.67 666.2 670.61 680.4 686.45 690.89 701.24 711.6 716.84 725.99 736.72 752.35 757.62 767.97 778.51 788.88 793.78 808.48 818.84 829.37 833.79 842.95 853.29 857.35 869.27 879.63 889.97 894.74 903.98 913.07 917.25 926.18 931.42 940.57 951.3" y="62" font-size="17.67" fill="#000000">powered by Predict-Price.com and MagicalPrediction.com and MagicalAnalysis.com</text>
<text x="604.93 615.81 624.87 629.86" y="317.17" font-size="14.72" fill="#000000">Date</text>
<text x="-17.66 -8.16 -2.81 0.9 8.57" y="0" transform="translate(26 176.81) rotate(-90)" font-size="14.72" fill="#000000">Price</text>
<text x="604.93 615.81 624.87 629.86" y="582" font-size="14.72" fill="#000000">Date</text>
<text x="-17.66 -8.16 -2.81 0.9 8.57" y="0" transform="translate(26 440.84) rotate(-90)" font-size="14.72" fill="#000000">Price</text>
</svg>
</body></html>
